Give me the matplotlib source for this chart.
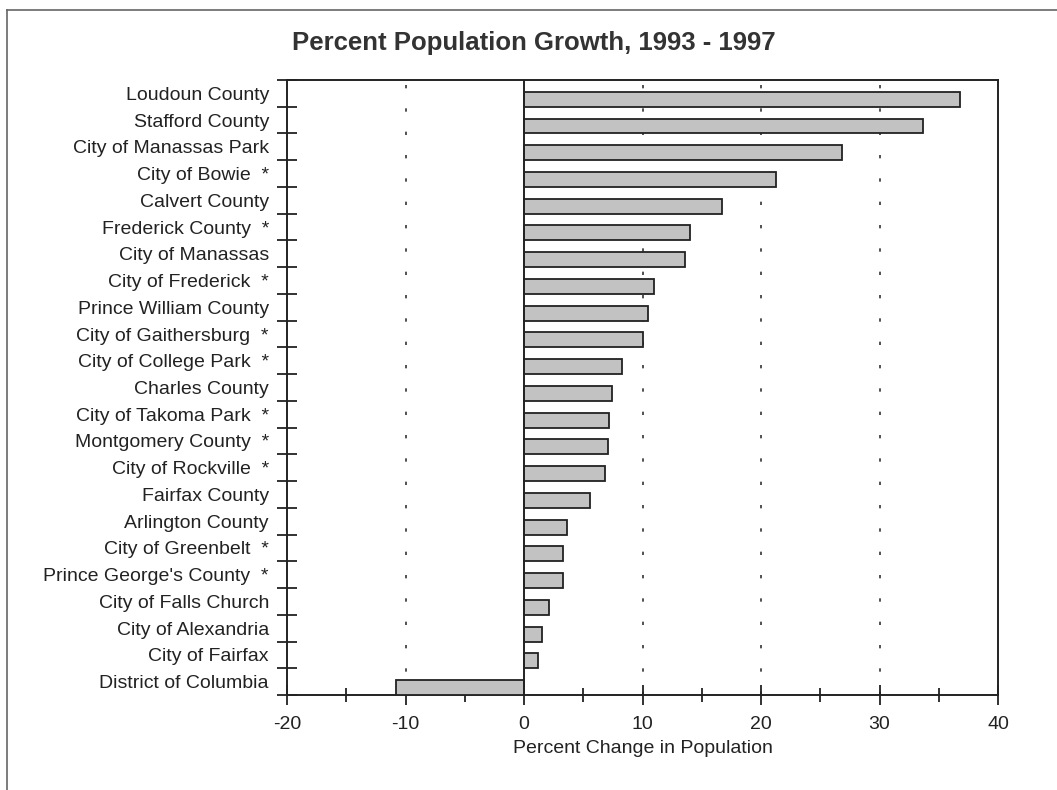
import numpy as np
import matplotlib
matplotlib.use('Agg')
import matplotlib.pyplot as plt
from matplotlib.lines import Line2D
from matplotlib.ticker import MultipleLocator, FixedLocator

plt.rcParams['font.family'] = ['Liberation Sans', 'DejaVu Sans']
plt.rcParams['axes.unicode_minus'] = False

# dados
jurisdictions = [
    'Loudoun County', 'Stafford County', 'City of Manassas Park',
    'City of Bowie  *', 'Calvert County', 'Frederick County  *',
    'City of Manassas', 'City of Frederick  *', 'Prince William County',
    'City of Gaithersburg  *', 'City of College Park  *', 'Charles County',
    'City of Takoma Park  *', 'Montgomery County  *', 'City of Rockville  *',
    'Fairfax County', 'Arlington County', 'City of Greenbelt  *',
    "Prince George's County  *", 'City of Falls Church', 'City of Alexandria',
    'City of Fairfax', 'District of Columbia',
]
pct_change = [36.8, 33.7, 26.8, 21.3, 16.7, 14.0, 13.6, 11.0, 10.5, 10.0,
              8.3, 7.4, 7.2, 7.1, 6.85, 5.6, 3.6, 3.3, 3.25, 2.1, 1.5, 1.2,
              -10.8]
x_ticks = [-20, -10, 0, 10, 20, 30, 40]
grid_at = [-10, 10, 20, 30]

fig = plt.figure(figsize=(10.57, 7.9), dpi=100)
ax = fig.add_axes([287 / 1057, 1 - 695 / 790, (998 - 287) / 1057, (695 - 80) / 790])

n = len(jurisdictions)
pos = np.arange(n)
bar_h = 0.56
# barras apoiadas na fronteira inferior de cada categoria
ax.barh(pos + 0.5 - bar_h / 2, pct_change, height=bar_h,
        color='#c2c2c2', edgecolor='#222222', linewidth=1.3, zorder=3)

ax.set_xlim(-20, 40)
ax.set_ylim(n - 0.5, -0.5)

for g in grid_at:
    ax.axvline(g, color='#333333', linestyle=(0, (2, 12)), linewidth=1.2, zorder=1)
ax.axvline(0, color='#222222', linewidth=1.4, zorder=4)

ax.set_xticks(x_ticks)
ax.xaxis.set_minor_locator(MultipleLocator(5))
ax.tick_params(axis='x', which='major', direction='inout', length=14, width=1.3,
               labelsize=14, pad=8, colors='#222222')
ax.tick_params(axis='x', which='minor', direction='inout', length=10, width=1.3,
               colors='#222222')

ax.set_yticks(pos)
ax.set_yticklabels(jurisdictions)
ax.yaxis.set_minor_locator(FixedLocator(np.arange(n + 1) - 0.5))
ax.tick_params(axis='y', which='major', length=0, labelsize=14, pad=13,
               colors='#222222')
ax.tick_params(axis='y', which='minor', direction='inout', length=14, width=1.3,
               colors='#222222')

for s in ax.spines.values():
    s.set_linewidth(1.4)
    s.set_color('#222222')

ax.set_xlabel('Percent Change in Population', fontsize=14, labelpad=5,
              color='#222222')

fig.text(534 / 1057, 1 - 43 / 790, 'Percent Population Growth, 1993 - 1997',
         ha='center', va='center', fontsize=18.5, fontweight='bold',
         color='#333333')

# moldura externa (scan)
fig.add_artist(Line2D([7 / 1057, 7 / 1057], [0, 1 - 10 / 790],
                      transform=fig.transFigure, color='#666666', linewidth=1.2))
fig.add_artist(Line2D([7 / 1057, 1], [1 - 10 / 790, 1 - 10 / 790],
                      transform=fig.transFigure, color='#666666', linewidth=1.2))

fig.savefig('out.png', dpi=100)
